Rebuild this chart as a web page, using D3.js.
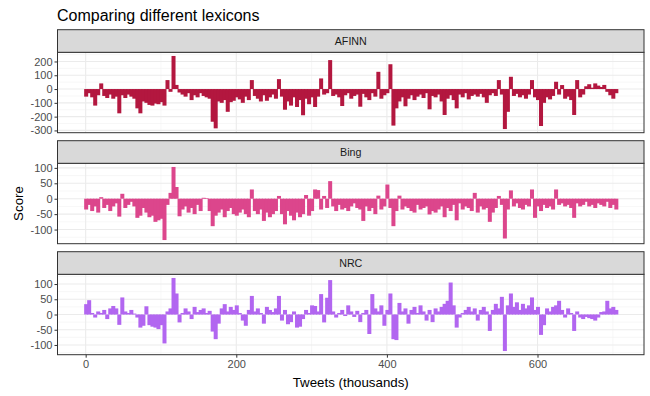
<!DOCTYPE html>
<html>
<head>
<meta charset="utf-8">
<script src="https://cdn.jsdelivr.net/npm/d3@7"></script>
<style>
    body { margin: 0; background: #fff; }
    text { font-family: "Liberation Sans", Arial, sans-serif; }
</style>
</head>
<body>
<div id="chart"></div>
<script>

    // tweets are binned every 4 thousand, starting at 0
    var tweetStart = 0, tweetStep = 4;

    var lexicons = ["AFINN", "Bing", "NRC"];

    var afinn = [
        -55, -30, -60, -120, -45, 41, -50, -65, -40, -70,
        -55, -176, -45, -65, -40, -55, -70, -140, -176, -90,
        -100, -115, -120, -105, -110, -95, -120, 65, -20, 240,
        30, -25, -40, -55, -30, -80, -45, -60, -30, -50,
        -60, -70, -237, -285, -90, -100, -80, -165, -95, -85,
        -60, -75, -100, -55, -80, 65, -50, -70, -90, -45,
        -85, -60, -40, -70, 72, -55, -150, -90, -120, -60,
        -130, -80, -190, -70, -110, -60, -130, -55, 77, -40,
        -30, 210, -50, -40, -60, -123, -45, -30, -70, -50,
        -40, -128, -35, -60, -80, -30, -55, 125, -70, -45,
        -30, 180, -265, -140, -90, -60, -125, -70, -45, -80,
        -55, -40, -65, -30, -147, -50, -60, -40, -90, -188,
        -70, -45, -80, -140, -40, -60, -30, -75, -50, -40,
        -55, -35, -60, -100, -45, -30, -50, 65, -40, -290,
        -165, 89, -50, -35, -60, -45, -70, -40, 65, -60,
        -80, -268, -100, -60, -75, -50, 53, -40, 29, -70,
        -55, -80, -188, 65, -60, -40, 20, 35, 10, 41,
        25, 15, 30, -20, -45, -70, -30
    ];

    var bing = [
        -35, -20, -40, -25, -45, 5, -30, -20, -40, -25,
        -15, -58, 16, -30, -20, -10, -25, -62, -55, -30,
        -45, -60, -55, -75, -70, -65, -134, -20, 19, 103,
        38, -57, -35, -25, -45, -30, -50, -20, -40, 3,
        2, -40, -89, -55, -45, -35, -60, -40, -30, -50,
        -55, -45, -35, -50, -60, 30, -40, -50, -35, -72,
        -45, -60, -50, -40, 9, -50, -83, -40, -55, -70,
        -45, -60, -50, 12, -55, -40, 30, 28, -35, 9,
        -30, 57, -25, -40, -20, -35, -30, -40, -25, -15,
        -30, -35, -72, -25, -40, -30, -50, 10, -35, -25,
        46, -30, -89, -40, 10, -35, -25, -30, -40, -45,
        -20, -35, -30, -25, -51, -40, -45, -35, -25, -60,
        -30, -40, -20, -70, -15, -35, -25, -30, -40, 19,
        -45, -25, -35, -30, -75, -45, -30, 9, -20, -129,
        -35, 27, -25, -15, -30, -35, -20, -25, 30, -62,
        -25, -40, -20, -30, -25, -35, 30, -20, -15, -25,
        -20, -30, -62, -15, -25, -20, -10, -25, -20, -30,
        -15, -20, -25, -10, -30, -20, -35
    ];

    var nrc = [
        34, 47, 5, -10, 10, 5, 15, -15, 20, 28,
        20, -34, 56, 10, 5, 15, 3, -10, -43, -37,
        27, -35, -40, -43, -48, -35, -95, 10, 20, 120,
        69, -26, 5, 20, 10, -15, 25, 8, 15, 20,
        5, 12, -56, -81, -30, 20, 34, 10, 25, 15,
        30, 5, -20, -37, 15, 61, 10, 20, 5, -30,
        25, 15, 8, 20, 61, -20, 15, -32, -25, 10,
        -43, -40, -15, 15, 5, 30, 28, 10, 67, -26,
        55, 113, 10, -10, 5, 15, -5, 30, 10, -8,
        12, -25, 5, 15, -64, 67, 20, 10, 30, -37,
        15, 69, -81, -84, 38, 10, 20, -30, 15, 25,
        5, 30, 10, -20, 15, -25, 20, 10, 25, 35,
        45, 105, 30, -43, -10, 5, 15, 25, 10, 20,
        -20, 15, 25, 10, -54, 15, 35, 20, 58, -120,
        30, 69, 25, 40, 15, 35, 20, 30, 56, 15,
        25, -67, -35, 20, 10, 25, 30, 45, 15, -10,
        20, 5, -54, 10, -10, -15, -8, -12, -15, -20,
        -10, 8, 10, 45, 20, 25, 15
    ];

    var xTicks = [0, 200, 400, 600];
    var afinnTicks = [200, 100, 0, -100, -200, -300];
    var bingTicks = [100, 50, 0, -50, -100];
    var nrcTicks = [100, 50, 0, -50, -100];

    var barColors = ["#b3173f", "#dc468c", "#b266f0"];

    function draw_lexicon_facets() {

        var width = 650, height = 396;
        var margin = {left: 57.5, right: 6, top: 29.7};
        var stripH = 22.6, panelH = 80.4, gap = 8;

        var svg = d3.select("#chart")
            .append("svg")
            .attr("width", width)
            .attr("height", height);

        // title
        svg.append("text")
            .attr("x", 57)
            .attr("y", 20.5)
            .style("font-size", "16px")
            .style("fill", "#000")
            .text("Comparing different lexicons");

        // shared x scale, with ggplot's 5% padding
        var lastTweet = tweetStart + (afinn.length - 1) * tweetStep;
        var lo = tweetStart - tweetStep / 2, hi = lastTweet + tweetStep / 2;
        var pad = (hi - lo) * 0.05;
        var x = d3.scaleLinear()
            .domain([lo - pad, hi + pad])
            .range([margin.left, width - margin.right]);

        var xMinor = [100, 300, 500, 700];

        var series = [afinn, bing, nrc];
        var yTicksAll = [afinnTicks, bingTicks, nrcTicks];

        series.forEach(function (values, k) {
            var stripTop = margin.top + k * (stripH + panelH + gap);
            var top = stripTop + stripH, bottom = top + panelH;

            var ext = d3.extent(values);
            var ypad = (ext[1] - ext[0]) * 0.05;
            var y = d3.scaleLinear()
                .domain([ext[0] - ypad, ext[1] + ypad])
                .range([bottom, top]);

            var ticks = yTicksAll[k];
            var tstep = Math.abs(ticks[0] - ticks[1]);
            var yMinor = [];
            for (var t = d3.min(ticks) - tstep / 2; t <= d3.max(ticks) + tstep; t += tstep) {
                if (t > y.domain()[0] && t < y.domain()[1]) yMinor.push(t);
            }

            var g = svg.append("g");

            // minor grid
            g.selectAll("line.ymin").data(yMinor).enter().append("line")
                .attr("x1", margin.left).attr("x2", width - margin.right)
                .attr("y1", function (d) { return y(d); })
                .attr("y2", function (d) { return y(d); })
                .style("stroke", "#f2f2f2").style("stroke-width", 0.6);
            g.selectAll("line.xmin").data(xMinor).enter().append("line")
                .attr("x1", function (d) { return x(d); })
                .attr("x2", function (d) { return x(d); })
                .attr("y1", top).attr("y2", bottom)
                .style("stroke", "#f2f2f2").style("stroke-width", 0.6);

            // major grid
            g.selectAll("line.ymaj").data(ticks).enter().append("line")
                .attr("x1", margin.left).attr("x2", width - margin.right)
                .attr("y1", function (d) { return y(d); })
                .attr("y2", function (d) { return y(d); })
                .style("stroke", "#ebebeb").style("stroke-width", 1.1);
            g.selectAll("line.xmaj").data(xTicks).enter().append("line")
                .attr("x1", function (d) { return x(d); })
                .attr("x2", function (d) { return x(d); })
                .attr("y1", top).attr("y2", bottom)
                .style("stroke", "#ebebeb").style("stroke-width", 1.1);

            // bars (a little overlap so neighbours don't leave seams)
            var bw = x(tweetStep) - x(0);
            g.append("g")
                .selectAll("rect")
                .data(values)
                .enter()
                .append("rect")
                .attr("x", function (d, i) { return x(tweetStart + i * tweetStep) - bw / 2; })
                .attr("width", bw + 1)
                .attr("y", function (d) { return y(Math.max(0, d)); })
                .attr("height", function (d) { return Math.abs(y(d) - y(0)); })
                .style("fill", barColors[k]);

            // panel border
            g.append("rect")
                .attr("x", margin.left).attr("y", top)
                .attr("width", width - margin.right - margin.left)
                .attr("height", panelH)
                .style("fill", "none").style("stroke", "#333").style("stroke-width", 1);

            // strip
            g.append("rect")
                .attr("x", margin.left).attr("y", stripTop)
                .attr("width", width - margin.right - margin.left)
                .attr("height", stripH)
                .style("fill", "#d9d9d9").style("stroke", "#333").style("stroke-width", 1);
            g.append("text")
                .attr("x", (margin.left + width - margin.right) / 2)
                .attr("y", stripTop + stripH / 2 + 4)
                .style("text-anchor", "middle")
                .style("font-size", "10.7px")
                .style("fill", "#1a1a1a")
                .text(lexicons[k]);

            // y axis
            var ya = g.append("g")
                .attr("transform", "translate(" + margin.left + ",0)")
                .call(d3.axisLeft(y).tickValues(ticks).tickSize(3).tickPadding(2)
                    .tickFormat(function (d) { return String(d); }));
            ya.select(".domain").remove();
            ya.selectAll("line").style("stroke", "#333");
            ya.selectAll("text").style("font-size", "11px").style("fill", "#4d4d4d")
                .style("font-family", "'Liberation Sans', Arial, sans-serif");

            if (k === series.length - 1) {
                var xa = g.append("g")
                    .attr("transform", "translate(0," + bottom + ")")
                    .call(d3.axisBottom(x).tickValues(xTicks).tickSize(3).tickPadding(3)
                        .tickFormat(function (d) { return String(d); }));
                xa.select(".domain").remove();
                xa.selectAll("line").style("stroke", "#333");
                xa.selectAll("text").style("font-size", "11px").style("fill", "#4d4d4d")
                    .style("font-family", "'Liberation Sans', Arial, sans-serif");
            }
        });

        // axis titles
        svg.append("text")
            .attr("x", (margin.left + width - margin.right) / 2)
            .attr("y", 387)
            .style("text-anchor", "middle")
            .style("font-size", "13.3px")
            .text("Tweets (thousands)");

        svg.append("text")
            .attr("transform", "rotate(-90)")
            .attr("x", -203.5)
            .attr("y", 22.5)
            .style("text-anchor", "middle")
            .style("font-size", "13.3px")
            .text("Score");
    }

    draw_lexicon_facets();

</script>
</body>
</html>
